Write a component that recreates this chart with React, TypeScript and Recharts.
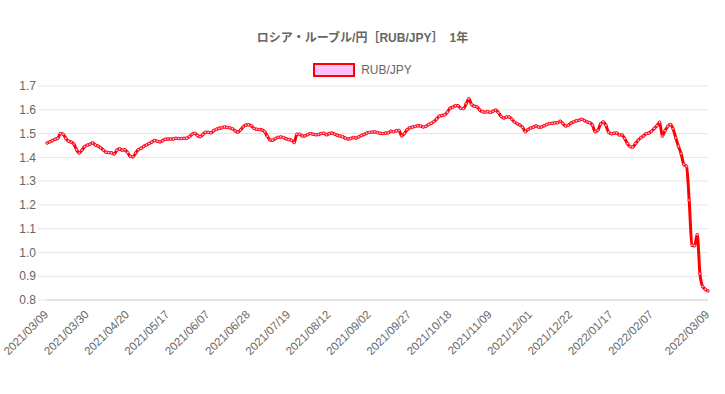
import { LineChart, Line, XAxis, YAxis, CartesianGrid, Legend } from "recharts";

// daily close, 2021/03/09 .. 2022/03/09
const rubJpy = [
  1.46, 1.465, 1.47, 1.476, 1.48, 1.5, 1.497, 1.48, 1.468, 1.464,
  1.456, 1.432, 1.418, 1.43, 1.445, 1.451, 1.455, 1.461, 1.452, 1.447,
  1.44, 1.43, 1.421, 1.42, 1.419, 1.414, 1.43, 1.436, 1.43, 1.432,
  1.42, 1.404, 1.402, 1.418, 1.432, 1.438, 1.446, 1.452, 1.458, 1.464,
  1.471, 1.468, 1.465, 1.47, 1.476, 1.477, 1.477, 1.477, 1.48, 1.479,
  1.479, 1.48, 1.48, 1.487, 1.497, 1.501, 1.492, 1.487, 1.496, 1.505,
  1.505,
  1.503, 1.512, 1.518, 1.522, 1.524, 1.528, 1.526, 1.524, 1.52, 1.512,
  1.506, 1.515, 1.528, 1.536, 1.537, 1.533, 1.522, 1.518, 1.517, 1.515,
  1.508, 1.489, 1.473, 1.472, 1.479, 1.484, 1.486, 1.483, 1.478, 1.475,
  1.472, 1.462, 1.497, 1.497, 1.49, 1.49, 1.496, 1.5, 1.497, 1.495,
  1.496, 1.5, 1.501, 1.495, 1.5, 1.502, 1.498, 1.493, 1.49, 1.487,
  1.481, 1.477, 1.479, 1.483, 1.481, 1.486, 1.492, 1.496, 1.502, 1.505,
  1.506,
  1.507, 1.504, 1.501, 1.5, 1.502, 1.503, 1.51, 1.508, 1.512,
  1.513, 1.49, 1.5, 1.516, 1.524, 1.527, 1.53, 1.533, 1.532, 1.528,
  1.53, 1.538, 1.543, 1.55, 1.561, 1.573, 1.576, 1.579, 1.59, 1.607,
  1.611, 1.617, 1.617, 1.606, 1.605, 1.625, 1.646, 1.622, 1.615, 1.612,
  1.6, 1.592, 1.59, 1.592, 1.589, 1.594, 1.599, 1.588, 1.572, 1.565,
  1.57, 1.57, 1.56, 1.548, 1.541, 1.536, 1.527, 1.508, 1.517, 1.523,
  1.527, 1.532,
  1.527, 1.528, 1.533, 1.538, 1.542, 1.543, 1.545, 1.545,
  1.552, 1.542, 1.532, 1.535, 1.544, 1.549, 1.554, 1.556, 1.56, 1.555,
  1.549, 1.546, 1.535, 1.508, 1.514, 1.54, 1.549, 1.535, 1.506, 1.499,
  1.501, 1.502, 1.494, 1.494, 1.479, 1.458, 1.445, 1.443, 1.458, 1.472,
  1.483, 1.49, 1.5, 1.502, 1.51, 1.522, 1.533, 1.548, 1.489, 1.512,
  1.53, 1.538, 1.52, 1.482, 1.447, 1.415, 1.37, 1.362, 1.22, 1.03,
  1.028, 1.075, 0.91, 0.857, 0.845, 0.838,
];

const tickIndex = [0, 15, 30, 45, 60, 75, 90, 105, 120, 135, 150, 165, 180, 195, 210, 225, 246];
const tickDates = [
  "2021/03/09", "2021/03/30", "2021/04/20", "2021/05/17", "2021/06/07", "2021/06/28",
  "2021/07/19", "2021/08/12", "2021/09/02", "2021/09/27", "2021/10/18", "2021/11/09",
  "2021/12/01", "2021/12/22", "2022/01/17", "2022/02/07", "2022/03/09",
];
const yTicks = [0.8, 0.9, 1.0, 1.1, 1.2, 1.3, 1.4, 1.5, 1.6, 1.7];

const data = rubJpy.map((value, i) => ({ i, value }));

const FONT = '"Liberation Sans", Arial, "Noto Sans CJK JP", sans-serif';
const TEXT = "#666";

function DateTick({ x, y, payload }: any) {
  const label = tickDates[tickIndex.indexOf(payload.value)] ?? "";
  const ax = x;
  const ay = y + 13;
  return (
    <text
      x={ax}
      y={ay}
      transform={`rotate(-45, ${ax}, ${ay})`}
      textAnchor="end"
      dominantBaseline="middle"
      fontSize={11.5}
      fontFamily={FONT}
      fill={TEXT}
    >
      {label}
    </text>
  );
}

function LegendBox() {
  return (
    <div style={{ display: "flex", justifyContent: "center", alignItems: "center", fontFamily: FONT, fontSize: 12, color: TEXT }}>
      <span style={{ width: 38, height: 10, background: "#ffc0ff", border: "2px solid #ff0000", marginRight: 6 }} />
      <span>RUB/JPY</span>
    </div>
  );
}

export default function App() {
  return (
    <div style={{ position: "absolute", left: 0, top: 0, width: 725, height: 394 }}>
      <div
        style={{
          position: "absolute",
          top: 28,
          left: 0,
          width: 725,
          textAlign: "center",
          fontFamily: FONT,
          fontWeight: "bold",
          fontSize: 12,
          color: TEXT,
        }}
      >
        ロシア・ルーブル/円［RUB/JPY］　1年
      </div>
      <LineChart width={725} height={394} data={data} margin={{ top: 86, right: 17, left: 0, bottom: 0 }}>
        <CartesianGrid vertical={false} stroke="#e6e6e6" />
        <XAxis
          dataKey="i"
          type="number"
          domain={[0, rubJpy.length - 1]}
          ticks={tickIndex}
          interval={0}
          height={94}
          tickLine={false}
          tickSize={0}
          tickMargin={0}
          axisLine={{ stroke: "#d4d4d4" }}
          tick={<DateTick />}
        />
        <YAxis
          type="number"
          domain={[0.8, 1.7]}
          ticks={yTicks}
          interval={0}
          width={47}
          tickSize={9}
          tickMargin={2}
          axisLine={false}
          tickLine={{ stroke: "#e6e6e6" }}
          tickFormatter={(v: number) => v.toFixed(1)}
          tick={{ fontSize: 12, fill: TEXT, fontFamily: FONT }}
        />
        <Legend
          verticalAlign="middle"
          align="center"
          layout="horizontal"
          wrapperStyle={{ top: 63, left: 0, width: 725 }}
          content={() => <LegendBox />}
        />
        <Line
          type="monotone"
          dataKey="value"
          name="RUB/JPY"
          stroke="#ff0000"
          strokeWidth={3}
          dot={{ r: 1.3, fill: "#ffc0ff", stroke: "#ff0000", strokeWidth: 0.8 }}
          isAnimationActive={false}
        />
      </LineChart>
    </div>
  );
}
